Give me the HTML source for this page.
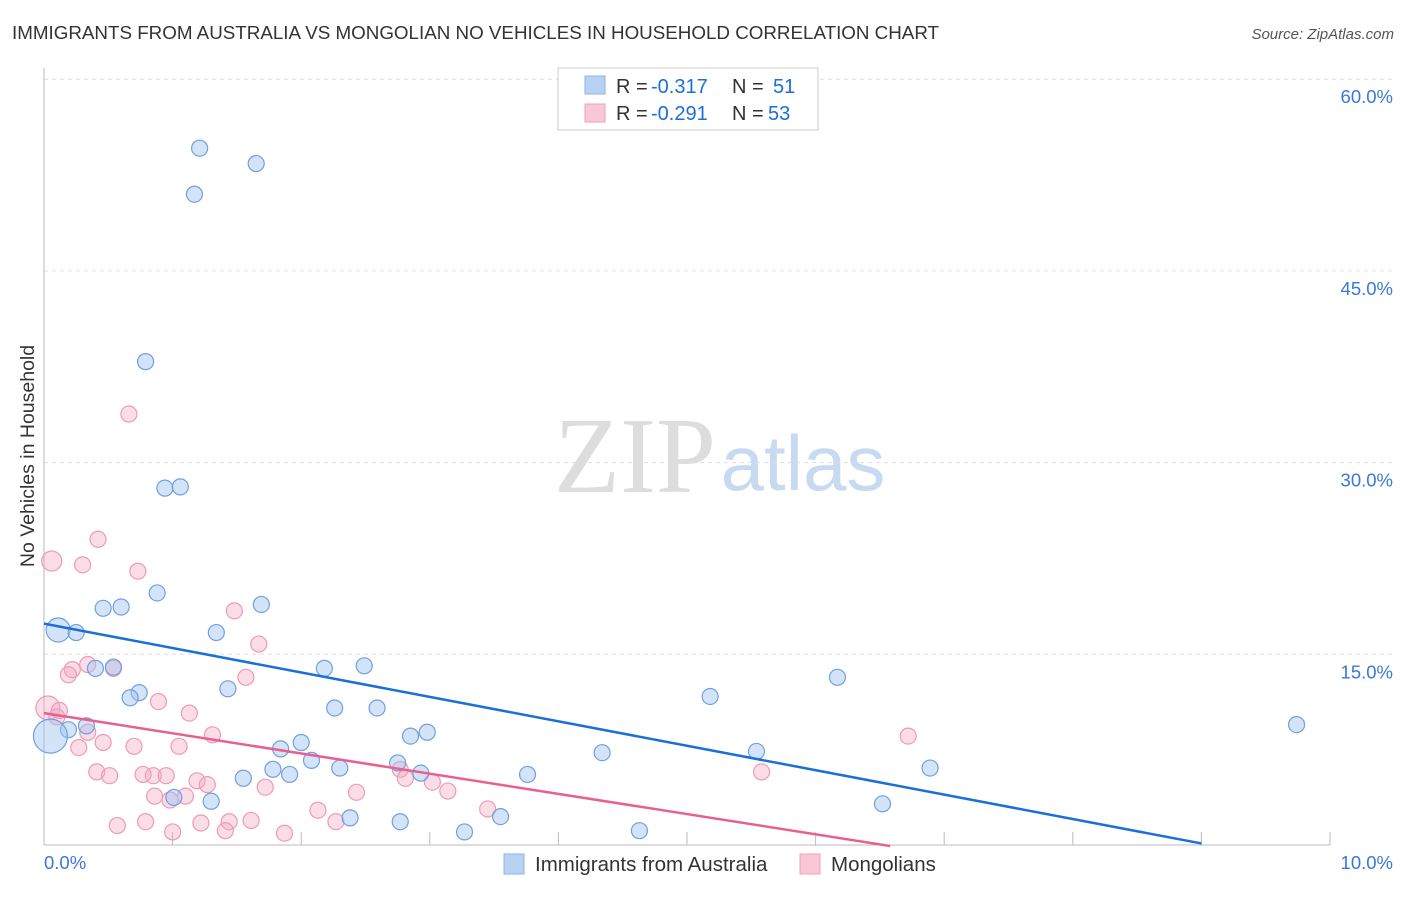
<!DOCTYPE html>
<html><head><meta charset="utf-8"><style>
body{margin:0;background:#fff;font-family:"Liberation Sans",sans-serif}
</style></head><body>
<svg id="chart" width="1406" height="892" xmlns="http://www.w3.org/2000/svg">
<text x="12" y="39" font-size="18.8" fill="#333">IMMIGRANTS FROM AUSTRALIA VS MONGOLIAN NO VEHICLES IN HOUSEHOLD CORRELATION CHART</text>
<text x="1394" y="39" font-size="15" fill="#555" font-style="italic" text-anchor="end">Source: ZipAtlas.com</text>
<text x="635" y="492" font-size="108" fill="#ddd" font-family="Liberation Serif,serif" text-anchor="middle">ZIP</text>
<text x="803" y="490" font-size="78" fill="#c8daf2" text-anchor="middle">atlas</text>
<text transform="translate(34,456) rotate(-90)" font-size="19.5" fill="#333" text-anchor="middle">No Vehicles in Household</text>
<g id="grid"></g><g id="pts"></g><g id="lines"></g>
<g>
<rect x="558" y="68" width="260" height="62" fill="#fff" stroke="#ccc"/>
<rect x="585" y="76" width="20" height="18" fill="#b8d2f4" stroke="#8ab4e8"/>
<rect x="585" y="104" width="20" height="18" fill="#f9c8d6" stroke="#f0a0b8"/>
<text x="616" y="93" font-size="20" fill="#333">R =</text>
<text x="651" y="93" font-size="20" fill="#1a6fd8">-0.317</text>
<text x="732" y="93" font-size="20" fill="#333">N =</text>
<text x="773" y="93" font-size="20" fill="#1a6fd8">51</text>
<text x="616" y="120" font-size="20" fill="#333">R =</text>
<text x="651" y="120" font-size="20" fill="#1a6fd8">-0.291</text>
<text x="732" y="120" font-size="20" fill="#333">N =</text>
<text x="768" y="120" font-size="20" fill="#1a6fd8">53</text>
</g>
<g>
<rect x="504" y="854" width="20" height="20" fill="#b8d2f4" stroke="#8ab4e8"/>
<text x="535" y="871" font-size="20.5" fill="#333">Immigrants from Australia</text>
<rect x="800" y="854" width="20" height="20" fill="#f9c8d6" stroke="#f0a0b8"/>
<text x="831" y="871" font-size="20.5" fill="#333">Mongolians</text>
</g>
</svg>
<script>
const yTicks=[15,30,45,60];
const xTickLabels=["0.0%","10.0%"];
const blueX=[1.21,1.65,1.17,0.79,0.94,1.06,0.88,0.46,0.60,1.69,0.11,0.25,1.34,0.40,0.54,2.18,2.49,6.17,0.74,0.67,1.43,5.18,2.26,2.59,9.74,0.33,0.19,0.05,2.98,2.85,2.00,1.84,4.34,5.54,2.08,2.75,2.30,1.78,1.91,2.93,3.76,1.55,6.89,1.01,1.30,6.52,2.38,3.55,2.77,3.27,4.63];
const blueY=[54.6,53.4,51.0,37.9,28.0,28.1,19.8,18.6,18.7,18.9,16.9,16.7,16.7,13.9,14.0,13.9,14.1,13.2,12.0,11.6,12.3,11.7,10.8,10.8,9.5,9.4,9.1,8.6,8.9,8.6,8.1,7.6,7.3,7.4,6.7,6.5,6.1,6.0,5.6,5.7,5.6,5.3,6.1,3.8,3.5,3.3,2.2,2.3,1.9,1.1,1.2];
const blueR=[8,8,8,8,8,8,8,8,8,8,12,8,8,8,8,8,8,8,8,8,8,8,8,8,8,8,8,17,8,8,8,8,8,8,8,8,8,8,8,8,8,8,8,8,8,8,8,8,8,8,8];
const pinkX=[0.06,0.66,0.42,0.30,0.73,1.48,1.67,0.34,0.22,0.19,0.54,1.57,0.89,0.03,0.12,0.10,1.13,0.34,1.31,0.46,0.70,1.05,0.27,6.72,0.41,0.51,0.85,0.95,0.77,1.19,1.27,1.72,5.58,2.77,3.02,3.14,2.43,0.86,0.98,1.10,3.45,2.13,0.79,0.57,1.22,1.44,1.61,2.27,1.00,1.41,1.87,2.81];
const pinkY=[22.3,33.8,24.0,22.0,21.5,18.4,15.8,14.2,13.8,13.4,13.9,13.2,11.3,10.8,10.6,10.1,10.4,8.9,8.7,8.1,7.8,7.8,7.7,8.6,5.8,5.5,5.5,5.5,5.6,5.1,4.8,4.6,5.8,6.0,5.0,4.3,4.2,3.9,3.6,3.9,2.9,2.8,1.9,1.6,1.8,1.9,2.0,1.9,1.1,1.2,1.0,5.3];
const pinkR=[10,8,8,8,8,8,8,8,8,8,8,8,8,12,8,8,8,8,8,8,8,8,8,8,8,8,8,8,8,8,8,8,8,8,8,8,8,8,8,8,8,8,8,8,8,8,8,8,8,8,8,8];
const blueTrend=[0,17.4,9,0.2];
const pinkTrend=[0,10.4,6.58,0];
const X0=44,X1=1330,Y0=846,YS=191.7/15;
const xs=v=>X0+(X1-X0)*v/10, ys=v=>Y0-v*YS;
const NS="http://www.w3.org/2000/svg";
function mk(t,a,p){const e=document.createElementNS(NS,t);for(const k in a)e.setAttribute(k,a[k]);p.appendChild(e);return e;}
const g=document.getElementById('grid');
yTicks.forEach(t=>{
 const l=mk('line',{x1:X0,x2:1394,y1:ys(t),y2:ys(t),stroke:'#ddd','stroke-dasharray':'4,4'},g);
 
 
 const tx=mk('text',{x:1393,y:ys(t)+24,'font-size':18.5,fill:'#3a78d8','text-anchor':'end'},g);
 tx.textContent=t.toFixed(1)+'%';
 
 
});
const ax=mk('line',{x1:X0,x2:X1,y1:845,y2:845,stroke:'#bbb'},g);


const ay=mk('line',{x1:X0,x2:X0,y1:68,y2:845,stroke:'#bbb'},g);


for(let i=1;i<=10;i++){const t=mk('line',{x1:xs(i),x2:xs(i),y1:832,y2:845,stroke:'#bbb'},g);
 
 }
const xl0=mk('text',{x:44,y:869,'font-size':18.5,fill:'#3a78d8'},g);xl0.textContent=xTickLabels[0];


const xl1=mk('text',{x:1393,y:869,'font-size':18.5,fill:'#3a78d8','text-anchor':'end'},g);xl1.textContent=xTickLabels[1];


const p=document.getElementById('pts');
pinkX.forEach((x,i)=>{const c=mk('circle',{cx:xs(x),cy:ys(pinkY[i]),r:pinkR[i],fill:'rgba(246,170,195,0.4)',stroke:'#ee9ab5','stroke-width':1.2},p);
 
 });
blueX.forEach((x,i)=>{const c=mk('circle',{cx:xs(x),cy:ys(blueY[i]),r:blueR[i],fill:'rgba(160,196,240,0.45)',stroke:'#6fa0e0','stroke-width':1.2},p);
 
 });
const L=document.getElementById('lines');
const bl=mk('line',{x1:xs(blueTrend[0]),y1:ys(blueTrend[1]),x2:xs(blueTrend[2]),y2:ys(blueTrend[3]),stroke:'#1a6fd8','stroke-width':2.5},L);


const pl=mk('line',{x1:xs(pinkTrend[0]),y1:ys(pinkTrend[1]),x2:xs(pinkTrend[2]),y2:ys(pinkTrend[3]),stroke:'#e8608e','stroke-width':2.5},L);


</script>
</body></html>
